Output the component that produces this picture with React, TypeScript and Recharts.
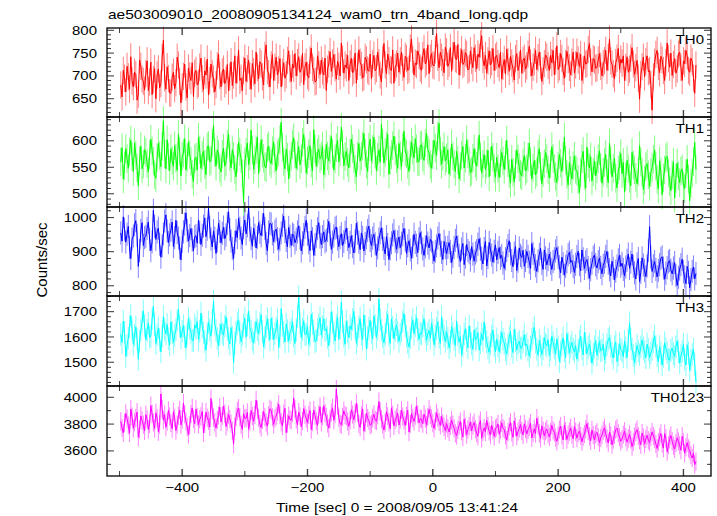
import React from "react";
import { LineChart, Line, XAxis, YAxis, ErrorBar } from "recharts";

const W = 717;
const H = 516;
const LEFT = 107;
const RIGHT = 711;
const EDGES = [28, 117, 207, 296, 386, 476];
const AXIS_W = 30;
const AXIS_H = 20;
const FONT = '"Liberation Sans", Arial, Helvetica, sans-serif';

// 2 s bins, 0 = 2008/09/05 13:41:24
const T_START = -498;
const T_BIN = 2;
const X_DOMAIN = [-520, 444];
const X_TICKS = [-500, -400, -300, -200, -100, 0, 100, 200, 300, 400];
const X_MAJOR = [-400, -200, 0, 200, 400];

const TH0 = [
  680, 654, 712, 695, 665, 721, 698, 671, 742, 689, 676, 708, 703, 647, 660, 735, 721, 693, 688, 669,
  705, 733, 668, 687, 730, 659, 692, 716, 650, 702, 715, 674, 683, 740, 778, 696, 671, 720, 694, 663,
  662, 697, 708, 672, 685, 741, 724, 688, 641, 676, 699, 726, 676, 652, 717, 700, 690, 729, 655, 706,
  712, 680, 684, 719, 739, 694, 670, 711, 702, 737, 658, 690, 726, 705, 693, 665, 681, 722, 748, 701,
  676, 709, 715, 683, 690, 725, 667, 698, 731, 679, 702, 744, 684, 713, 757, 690, 695, 668, 712, 739,
  688, 716, 735, 700, 671, 727, 709, 683, 752, 718, 694, 731, 726, 698, 680, 745, 768, 712, 705, 676,
  724, 747, 690, 719, 741, 702, 713, 738, 676, 708, 729, 695, 703, 734, 755, 716, 688, 726, 717, 749,
  700, 729, 742, 708, 715, 749, 681, 720, 730, 701, 696, 735, 761, 719, 712, 687, 689, 744, 724, 703,
  735, 711, 702, 739, 668, 715, 726, 753, 710, 728, 747, 718, 693, 732, 721, 700, 772, 737, 706, 724,
  718, 745, 690, 726, 739, 707, 712, 750, 684, 721, 757, 730, 723, 696, 698, 741, 735, 713, 710, 748,
  694, 727, 745, 711, 716, 752, 729, 702, 687, 736, 771, 724, 705, 748, 733, 714, 712, 757, 684, 719,
  726, 750, 708, 733, 752, 719, 697, 743, 738, 712, 715, 761, 781, 736, 702, 728, 725, 755, 744, 717,
  712, 745, 760, 726, 731, 768, 705, 739, 749, 724, 722, 757, 793, 741, 718, 752, 741, 729, 707, 763,
  753, 721, 728, 762, 710, 744, 774, 738, 736, 769, 702, 731, 758, 725, 729, 751, 747, 713, 716, 755,
  734, 718, 762, 739, 715, 748, 741, 770, 788, 736, 722, 745, 706, 733, 755, 724, 731, 760, 712, 741,
  745, 727, 718, 752, 693, 721, 736, 704, 759, 731, 710, 743, 728, 716, 691, 738, 749, 712, 724, 757,
  706, 734, 739, 715, 722, 748, 765, 729, 700, 719, 731, 756, 714, 740, 752, 723, 688, 711, 727, 746,
  741, 723, 712, 745, 729, 756, 703, 732, 766, 714, 720, 749, 738, 710, 695, 727, 754, 736, 718, 702,
  730, 752, 706, 724, 752, 735, 721, 747, 690, 713, 744, 726, 727, 758, 771, 730, 709, 738, 735, 717,
  718, 735, 749, 721, 700, 727, 733, 756, 712, 741, 781, 733, 726, 705, 694, 729, 739, 760, 714, 737,
  728, 744, 690, 719, 742, 708, 715, 739, 762, 726, 703, 718, 734, 695, 649, 703, 720, 741, 698, 731,
  744, 709, 712, 681, 625, 698, 730, 747, 756, 721, 707, 743, 735, 712, 690, 729, 772, 738, 719, 750,
  701, 725, 738, 706, 715, 748, 752, 719, 690, 733, 727, 756, 744, 712, 708, 739, 731, 695, 662, 724,
];

const TH1 = [
  560, 587, 528, 553, 585, 566, 548, 579, 601, 570, 542, 596, 573, 549, 515, 562, 590, 547, 556, 583,
  578, 557, 541, 574, 603, 581, 562, 536, 530, 568, 595, 572, 551, 590, 638, 575, 547, 602, 570, 544,
  585, 563, 552, 591, 567, 544, 612, 580, 534, 571, 577, 604, 545, 568, 598, 574, 561, 537, 523, 566,
  569, 545, 607, 583, 548, 572, 580, 556, 536, 589, 591, 560, 563, 596, 629, 578, 552, 583, 574, 549,
  541, 575, 586, 552, 560, 594, 613, 570, 549, 583, 571, 546, 532, 567, 597, 579, 566, 538, 484, 560,
  578, 596, 555, 571, 620, 583, 546, 564, 583, 607, 538, 569, 602, 577, 567, 551, 549, 586, 590, 562,
  557, 581, 598, 566, 543, 574, 579, 602, 635, 588, 561, 547, 584, 569, 528, 556, 571, 593, 606, 575,
  548, 572, 589, 555, 566, 597, 612, 580, 539, 563, 576, 591, 558, 543, 621, 585, 552, 577, 584, 566,
  571, 590, 536, 558, 593, 571, 562, 584, 608, 576, 545, 566, 587, 601, 560, 579, 626, 594, 553, 570,
  580, 559, 549, 577, 603, 585, 567, 546, 532, 571, 595, 562, 571, 590, 614, 577, 556, 542, 588, 603,
  562, 584, 607, 575, 544, 569, 583, 560, 631, 596, 558, 578, 590, 612, 537, 563, 574, 591, 609, 581,
  566, 548, 595, 572, 551, 587, 618, 579, 575, 556, 542, 573, 597, 582, 568, 604, 585, 561, 560, 591,
  592, 570, 563, 596, 614, 583, 577, 555, 548, 574, 601, 586, 572, 609, 633, 580, 556, 571, 589, 562,
  568, 583, 537, 560, 594, 571, 556, 542, 580, 563, 528, 551, 573, 589, 549, 567, 602, 576, 561, 540,
  543, 567, 585, 558, 552, 579, 611, 570, 539, 556, 574, 546, 557, 582, 532, 561, 590, 569, 548, 531,
  569, 548, 531, 557, 578, 562, 546, 573, 601, 559, 538, 520, 565, 541, 522, 555, 583, 566, 550, 537,
  534, 558, 572, 543, 547, 569, 596, 561, 528, 549, 563, 536, 541, 574, 585, 552, 519, 540, 557, 578,
  566, 545, 530, 556, 589, 567, 548, 533, 521, 552, 574, 558, 542, 571, 607, 563, 537, 516, 559, 544,
  528, 553, 571, 546, 543, 527, 502, 539, 566, 580, 535, 511, 588, 557, 549, 570, 524, 541, 562, 534,
  547, 566, 581, 550, 520, 541, 559, 574, 538, 521, 596, 563, 532, 548, 567, 529, 511, 545, 553, 576,
  538, 559, 503, 532, 563, 547, 529, 515, 578, 554, 545, 531, 519, 542, 591, 560, 541, 508, 526, 551,
  557, 536, 514, 540, 549, 565, 583, 552, 527, 509, 562, 541, 498, 530, 545, 568, 571, 539, 523, 506,
  536, 560, 492, 529, 558, 534, 521, 543, 547, 515, 510, 538, 565, 528, 487, 520, 539, 561, 597, 546,
];

const TH2 = [
  955, 931, 1002, 966, 928, 951, 974, 912, 880, 937, 946, 979, 991, 948, 857, 903, 962, 985, 918, 941,
  945, 968, 987, 936, 903, 929, 1021, 974, 936, 958, 969, 922, 884, 917, 952, 990, 1008, 961, 927, 949,
  963, 987, 915, 941, 992, 956, 940, 911, 876, 930, 958, 981, 1014, 962, 931, 947, 968, 934, 902, 944,
  947, 925, 993, 957, 921, 948, 975, 999, 944, 966, 1028, 972, 937, 914, 961, 940, 895, 932, 983, 959,
  926, 954, 972, 938, 949, 983, 1017, 965, 931, 909, 880, 927, 962, 941, 998, 969, 940, 921, 971, 993,
  952, 976, 1030, 964, 938, 916, 969, 948, 911, 942, 985, 957, 947, 979, 1012, 968, 924, 903, 958, 983,
  981, 952, 929, 960, 966, 938, 907, 935, 955, 977, 1004, 959, 933, 914, 971, 945, 918, 952, 948, 926,
  937, 958, 976, 940, 902, 926, 950, 971, 992, 951, 926, 903, 961, 938, 889, 921, 944, 967, 985, 943,
  921, 944, 958, 929, 934, 962, 989, 950, 907, 928, 946, 969, 972, 937, 915, 941, 953, 918, 930, 957,
  969, 936, 912, 927, 947, 915, 896, 931, 983, 954, 928, 906, 955, 942, 902, 924, 941, 962, 975, 933,
  918, 940, 951, 923, 889, 911, 937, 955, 970, 936, 910, 893, 944, 921, 877, 908, 926, 949, 962, 931,
  907, 929, 943, 912, 925, 950, 968, 934, 895, 917, 932, 905, 881, 914, 951, 927, 919, 897, 938, 956,
  926, 908, 889, 914, 947, 925, 911, 936, 931, 898, 872, 901, 917, 940, 953, 919, 898, 877, 930, 912,
  894, 913, 927, 901, 868, 887, 912, 933, 946, 914, 889, 871, 908, 924, 862, 884, 921, 903, 897, 875,
  915, 893, 872, 896, 903, 922, 938, 907, 881, 864, 909, 930, 858, 883, 927, 905, 890, 869, 901, 920,
  876, 898, 912, 881, 889, 867, 851, 879, 903, 918, 932, 894, 874, 856, 896, 915, 845, 872, 911, 889,
  883, 904, 857, 874, 901, 886, 869, 851, 924, 895, 878, 859, 842, 873, 892, 910, 866, 848, 905, 882,
  861, 877, 893, 866, 848, 871, 879, 902, 912, 883, 856, 838, 884, 865, 831, 857, 870, 891, 898, 869,
  874, 856, 839, 863, 886, 901, 862, 844, 905, 879, 851, 870, 877, 853, 822, 847, 866, 884, 890, 862,
  852, 871, 881, 854, 835, 860, 869, 886, 901, 866, 847, 829, 872, 851, 818, 843, 858, 876, 889, 857,
  866, 848, 829, 855, 875, 893, 851, 869, 893, 857, 838, 820, 864, 880, 812, 839, 882, 861, 845, 827,
  858, 903, 973, 884, 842, 859, 871, 848, 826, 845, 862, 880, 885, 852, 819, 837, 853, 870, 874, 846,
  835, 852, 868, 830, 801, 825, 849, 862, 878, 841, 826, 806, 857, 839, 794, 818, 842, 855, 820, 836,
];

const TH3 = [
  1610, 1578, 1662, 1619, 1523, 1566, 1595, 1641, 1684, 1632, 1571, 1607, 1640, 1592, 1512, 1584, 1627, 1659, 1703, 1644,
  1588, 1626, 1655, 1598, 1603, 1671, 1722, 1648, 1574, 1609, 1636, 1589, 1541, 1603, 1681, 1629, 1612, 1650, 1593, 1568,
  1660, 1617, 1578, 1606, 1629, 1664, 1710, 1642, 1597, 1622, 1645, 1601, 1556, 1612, 1673, 1635, 1620, 1587, 1585, 1648,
  1634, 1661, 1590, 1623, 1695, 1640, 1617, 1582, 1548, 1613, 1658, 1627, 1603, 1666, 1742, 1651, 1625, 1594, 1566, 1609,
  1651, 1615, 1608, 1643, 1680, 1629, 1594, 1572, 1637, 1599, 1499, 1576, 1620, 1654, 1668, 1617, 1581, 1610, 1646, 1674,
  1599, 1648, 1703, 1636, 1622, 1590, 1576, 1618, 1661, 1629, 1613, 1655, 1688, 1621, 1560, 1597, 1641, 1672, 1627, 1589,
  1675, 1633, 1590, 1614, 1636, 1668, 1558, 1603, 1712, 1646, 1619, 1580, 1652, 1625, 1583, 1617, 1630, 1661, 1603, 1574,
  1626, 1682, 1759, 1655, 1598, 1632, 1664, 1609, 1611, 1643, 1570, 1604, 1690, 1653, 1624, 1581, 1587, 1628, 1648, 1677,
  1607, 1640, 1672, 1625, 1632, 1598, 1565, 1621, 1699, 1658, 1616, 1584, 1645, 1679, 1591, 1634, 1738, 1660, 1603, 1571,
  1662, 1621, 1597, 1644, 1630, 1669, 1701, 1637, 1575, 1606, 1640, 1673, 1612, 1589, 1687, 1643, 1552, 1598, 1634, 1666,
  1618, 1592, 1683, 1646, 1599, 1631, 1750, 1668, 1627, 1601, 1576, 1612, 1658, 1690, 1608, 1574, 1671, 1639, 1593, 1627,
  1648, 1619, 1582, 1611, 1625, 1660, 1693, 1642, 1603, 1578, 1560, 1596, 1637, 1668, 1612, 1645, 1677, 1628, 1590, 1616,
  1611, 1643, 1672, 1620, 1587, 1612, 1626, 1595, 1654, 1627, 1569, 1603, 1633, 1661, 1598, 1574, 1681, 1630, 1604, 1582,
  1620, 1594, 1557, 1583, 1641, 1615, 1592, 1566, 1663, 1608, 1579, 1601, 1528, 1565, 1610, 1633, 1586, 1557, 1644, 1599,
  1573, 1551, 1627, 1589, 1594, 1617, 1548, 1576, 1612, 1587, 1660, 1605, 1581, 1558, 1539, 1572, 1603, 1628, 1567, 1541,
  1592, 1566, 1541, 1579, 1618, 1590, 1575, 1549, 1533, 1568, 1600, 1622, 1562, 1538, 1631, 1586, 1549, 1574, 1583, 1556,
  1556, 1581, 1609, 1565, 1572, 1547, 1524, 1560, 1590, 1614, 1638, 1579, 1551, 1527, 1587, 1562, 1530, 1553, 1598, 1571,
  1564, 1589, 1527, 1550, 1603, 1578, 1556, 1531, 1592, 1560, 1502, 1541, 1570, 1596, 1545, 1519, 1614, 1573, 1537, 1562,
  1579, 1552, 1541, 1566, 1512, 1547, 1584, 1603, 1553, 1529, 1619, 1575, 1534, 1558, 1571, 1543, 1496, 1531, 1560, 1586,
  1527, 1556, 1582, 1545, 1548, 1571, 1510, 1538, 1569, 1590, 1598, 1563, 1536, 1517, 1561, 1580, 1503, 1529, 1574, 1552,
  1545, 1522, 1583, 1557, 1519, 1586, 1656, 1591, 1552, 1527, 1498, 1533, 1567, 1544, 1530, 1561, 1588, 1556, 1541, 1518,
  1572, 1549, 1518, 1537, 1551, 1580, 1604, 1563, 1526, 1502, 1562, 1535, 1489, 1523, 1577, 1554, 1538, 1511, 1508, 1546,
  1556, 1534, 1523, 1561, 1585, 1540, 1497, 1526, 1543, 1570, 1512, 1489, 1569, 1537, 1468, 1509, 1530, 1552, 1493, 1421,
];

const TH0123 = [
  3820, 3771, 3735, 3808, 3880, 3842, 3790, 3733, 3912, 3856, 3768, 3814, 3845, 3889, 3702, 3760, 3861, 3827, 3795, 3749,
  3870, 3836, 3760, 3801, 3938, 3875, 3812, 3767, 3884, 3845, 3743, 3796, 4025, 3911, 3829, 3872, 3776, 3818, 3902, 3857,
  3808, 3765, 3892, 3846, 3751, 3797, 3863, 3905, 3794, 3832, 3957, 3874, 3820, 3778, 3722, 3789, 3876, 3921, 3839, 3802,
  3912, 3853, 3797, 3836, 3858, 3894, 3733, 3801, 3889, 3847, 3826, 3779, 3991, 3902, 3848, 3813, 3771, 3830, 3864, 3926,
  3816, 3862, 3935, 3877, 3782, 3819, 3871, 3838, 3804, 3752, 3650, 3781, 3853, 3897, 3918, 3851, 3795, 3761, 3877, 3843,
  3844, 3887, 3762, 3815, 3902, 3859, 3821, 3868, 3980, 3906, 3846, 3799, 3774, 3831, 3893, 3852, 3811, 3784, 3866, 3914,
  3903, 3851, 3798, 3842, 3859, 3893, 3948, 3870, 3813, 3786, 3877, 3917, 3736, 3804, 3862, 3835, 3829, 3881, 3995, 3912,
  3835, 3796, 3889, 3857, 3781, 3824, 3916, 3869, 3842, 3810, 3868, 3901, 3759, 3817, 3905, 3863, 3823, 3790, 3871, 3929,
  3812, 3858, 3937, 3881, 3853, 3805, 3770, 3836, 3886, 3921, 3828, 3874, 4061, 3939, 3846, 3803, 3795, 3852, 3899, 3867,
  3858, 3819, 3784, 3829, 3907, 3871, 3833, 3879, 3954, 3886, 3801, 3775, 3866, 3914, 3747, 3808, 3882, 3845, 3824, 3791,
  3801, 3843, 3874, 3830, 3822, 3866, 3968, 3895, 3837, 3798, 3756, 3811, 3892, 3858, 3814, 3767, 3921, 3869, 3786, 3831,
  3849, 3882, 3793, 3835, 3905, 3856, 3828, 3789, 3862, 3903, 3741, 3800, 3879, 3846, 3820, 3863, 3934, 3875, 3808, 3842,
  3836, 3803, 3874, 3841, 3795, 3852, 3911, 3867, 3842, 3807, 3768, 3823, 3884, 3848, 3817, 3790, 3857, 3806, 3779, 3752,
  3803, 3768, 3742, 3787, 3829, 3795, 3768, 3731, 3714, 3757, 3791, 3820, 3746, 3703, 3836, 3781, 3722, 3760, 3784, 3815,
  3751, 3789, 3812, 3762, 3733, 3709, 3796, 3826, 3694, 3743, 3772, 3741, 3828, 3785, 3745, 3718, 3791, 3754, 3708, 3766,
  3776, 3801, 3724, 3758, 3809, 3770, 3757, 3716, 3681, 3739, 3783, 3814, 3739, 3702, 3824, 3779, 3710, 3745, 3768, 3797,
  3748, 3719, 3802, 3764, 3726, 3757, 3779, 3806, 3697, 3733, 3765, 3729, 3844, 3788, 3731, 3694, 3787, 3752, 3712, 3746,
  3763, 3728, 3705, 3741, 3791, 3754, 3738, 3699, 3672, 3715, 3759, 3785, 3716, 3682, 3794, 3747, 3685, 3722, 3744, 3771,
  3722, 3690, 3781, 3743, 3695, 3731, 3748, 3712, 3668, 3704, 3726, 3762, 3804, 3748, 3709, 3676, 3757, 3718, 3681, 3725,
  3739, 3702, 3661, 3697, 3718, 3751, 3772, 3728, 3693, 3659, 3741, 3714, 3646, 3683, 3720, 3758, 3769, 3731, 3703, 3672,
  3688, 3721, 3746, 3703, 3665, 3694, 3723, 3685, 3632, 3668, 3708, 3740, 3759, 3712, 3679, 3645, 3734, 3701, 3651, 3689,
  3717, 3679, 3664, 3706, 3742, 3711, 3690, 3652, 3618, 3667, 3703, 3731, 3655, 3621, 3729, 3694, 3594, 3643, 3686, 3715,
  3672, 3638, 3615, 3659, 3698, 3671, 3641, 3605, 3709, 3664, 3583, 3627, 3662, 3619, 3604, 3568, 3547, 3582, 3498, 3521,
];

const SERIES = [TH0, TH1, TH2, TH3, TH0123];
const BAND_NAMES = ["TH0", "TH1", "TH2", "TH3", "TH0123"];
const BAND_COLORS = ["#ff0000", "#00ff00", "#0000ff", "#00ffff", "#ff00ff"];
const ERR_COLORS = ["#ff8080", "#80ff80", "#8080ff", "#80ffff", "#ff80ff"];
const BAND_ERR = [30, 27, 34, 45, 68];
const Y_DOMAINS = [[610, 805], [475, 645], [770, 1031], [1406, 1762], [3413, 4084]];
const Y_MAJOR = [
  [650, 700, 750, 800],
  [500, 550, 600],
  [800, 900, 1000],
  [1500, 1600, 1700],
  [3600, 3800, 4000],
];
const Y_MINOR_STEP = [10, 10, 20, 20, 100];

function yTicksFor(i: number) {
  const [lo, hi] = Y_DOMAINS[i];
  const step = Y_MINOR_STEP[i];
  const out: number[] = [];
  for (let v = Math.ceil(lo / step) * step; v <= hi; v += step) out.push(v);
  return out;
}

const yTick = (majors: number[]) => (p: any) => {
  const major = majors.includes(p.payload.value);
  const len = major ? 7 : 4;
  return (
    <g>
      <line x1={LEFT} x2={LEFT + len} y1={p.y} y2={p.y} stroke="#333" strokeWidth={1} />
      <line x1={RIGHT - len} x2={RIGHT} y1={p.y} y2={p.y} stroke="#333" strokeWidth={1} />
      {major && (
        <text
          transform={`translate(${LEFT - 10},${p.y}) scale(1,0.84)`}
          textAnchor="end"
          dy="0.36em"
          fontSize={15}
          fontFamily={FONT}
          fill="#000"
        >
          {p.payload.value}
        </text>
      )}
    </g>
  );
};

const xTick = (i: number) => (p: any) => {
  const major = X_MAJOR.includes(p.payload.value);
  const len = major ? 7 : 5;
  const top = EDGES[i];
  const bottom = EDGES[i + 1];
  const last = i === SERIES.length - 1;
  const v = p.payload.value;
  return (
    <g>
      <line x1={p.x} x2={p.x} y1={top} y2={top + len} stroke="#444" strokeWidth={major ? 1.4 : 1} />
      <line x1={p.x} x2={p.x} y1={bottom - len} y2={bottom} stroke="#444" strokeWidth={major ? 1.4 : 1} />
      {last && major && (
        <text
          transform={`translate(${p.x},${bottom + 16}) scale(1,0.84)`}
          textAnchor="middle"
          fontSize={15}
          fontFamily={FONT}
          fill="#000"
        >
          {v < 0 ? `\u2212${-v}` : v}
        </text>
      )}
    </g>
  );
};

function Panel({ i }: { i: number }) {
  const data = SERIES[i].map((v, k) => ({ t: T_START + k * T_BIN, v, e: BAND_ERR[i] }));
  return (
    <div style={{ position: "absolute", left: 0, top: 0 }}>
      <LineChart
        width={W}
        height={H}
        data={data}
        margin={{
          top: EDGES[i],
          bottom: H - EDGES[i + 1] - AXIS_H,
          left: LEFT - AXIS_W,
          right: W - RIGHT,
        }}
      >
        <XAxis
          dataKey="t"
          type="number"
          domain={X_DOMAIN}
          ticks={X_TICKS}
          allowDataOverflow
          height={AXIS_H}
          interval={0}
          tickLine={false}
          axisLine={false}
          tick={xTick(i)}
        />
        <YAxis
          type="number"
          domain={Y_DOMAINS[i]}
          ticks={yTicksFor(i)}
          allowDataOverflow
          width={AXIS_W}
          interval={0}
          tickLine={false}
          axisLine={false}
          tick={yTick(Y_MAJOR[i])}
        />
        <Line dataKey="v" stroke="none" dot={false} isAnimationActive={false}>
          <ErrorBar
            dataKey="e"
            width={0}
            direction="y"
            stroke={ERR_COLORS[i]}
            strokeWidth={1}
            isAnimationActive={false}
          />
        </Line>
        <Line dataKey="v" stroke={BAND_COLORS[i]} strokeWidth={1} dot={false} isAnimationActive={false} />
      </LineChart>
    </div>
  );
}

export default function App() {
  return (
    <div style={{ position: "absolute", left: 0, top: 0, width: W, height: H, background: "#fff" }}>
      {SERIES.map((_, i) => (
        <Panel key={BAND_NAMES[i]} i={i} />
      ))}
      <svg width={W} height={H} style={{ position: "absolute", left: 0, top: 0, pointerEvents: "none" }}>
        {SERIES.map((_, i) => (
          <rect
            key={i}
            x={LEFT}
            y={EDGES[i]}
            width={RIGHT - LEFT}
            height={EDGES[i + 1] - EDGES[i]}
            fill="none"
            stroke="#000"
            strokeWidth={1.3}
          />
        ))}
        {BAND_NAMES.map((name, i) => (
          <text
            key={name}
            transform={`translate(704,${EDGES[i] + 16}) scale(1,0.84)`}
            textAnchor="end"
            fontSize={15}
            fontFamily={FONT}
            fill="#000"
          >
            {name}
          </text>
        ))}
        <text transform="translate(108,19) scale(1,0.84)" fontSize={15.5} fontFamily={FONT} fill="#000">
          ae503009010_20080905134124_wam0_trn_4band_long.qdp
        </text>
        <text
          transform="translate(397,512) scale(1,0.84)"
          textAnchor="middle"
          fontSize={15.4}
          fontFamily={FONT}
          fill="#000"
        >
          Time [sec] 0 = 2008/09/05 13:41:24
        </text>
        <text
          transform="translate(47,260) rotate(-90)"
          textAnchor="middle"
          fontSize={15}
          fontFamily={FONT}
          fill="#000"
        >
          Counts/sec
        </text>
      </svg>
    </div>
  );
}
